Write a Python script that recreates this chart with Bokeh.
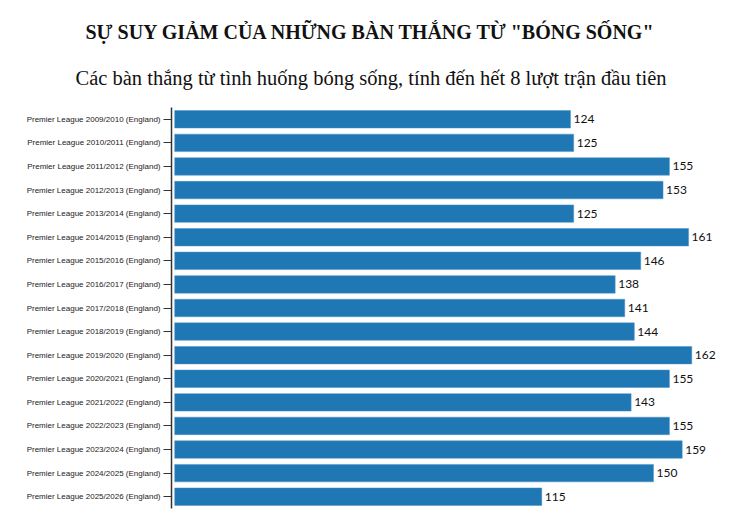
from bokeh.plotting import figure
from bokeh.models import Range1d, Title, ColumnDataSource
from bokeh.core.properties import value
from bokeh.embed import file_html
from bokeh.resources import INLINE

# seasons and goals from open play after 8 rounds
seasons = ["Premier League 2009/2010 (England)", "Premier League 2010/2011 (England)",
           "Premier League 2011/2012 (England)", "Premier League 2012/2013 (England)",
           "Premier League 2013/2014 (England)", "Premier League 2014/2015 (England)",
           "Premier League 2015/2016 (England)", "Premier League 2016/2017 (England)",
           "Premier League 2017/2018 (England)", "Premier League 2018/2019 (England)",
           "Premier League 2019/2020 (England)", "Premier League 2020/2021 (England)",
           "Premier League 2021/2022 (England)", "Premier League 2022/2023 (England)",
           "Premier League 2023/2024 (England)", "Premier League 2024/2025 (England)",
           "Premier League 2025/2026 (England)"]
goals = [124, 125, 155, 153, 125, 161, 146, 138, 141, 144, 162, 155, 143, 155, 159, 150, 115]

src = ColumnDataSource(dict(season=seasons, goals=goals, label=[str(g) for g in goals]))

p = figure(width=736, height=520, y_range=list(reversed(seasons)), x_range=Range1d(-1, 171),
           output_backend="svg", toolbar_location=None, title=None,
           min_border_left=171, min_border_right=16, min_border_bottom=12, min_border_top=107)

# titles are left aligned and pulled back over the axis so they sit centred on the page
p.add_layout(Title(text="Các bàn thắng từ tình huống bóng sống, tính đến hết 8 lượt trận đầu tiên",
                   align="left", offset=-96, text_font="Liberation Serif", text_font_size="20.5px",
                   text_font_style="normal", text_color="#111111", standoff=38), "above")
p.add_layout(Title(text='SỰ SUY GIẢM CỦA NHỮNG BÀN THẮNG TỪ "BÓNG SỐNG"',
                   align="left", offset=-86, text_font="Liberation Serif", text_font_size="20px",
                   text_font_style="bold", text_color="#111111", standoff=6), "above")

p.hbar(y="season", right="goals", left=0, height=0.74, source=src,
       fill_color="#1f77b4", line_color="#4a93c8", line_width=0.5)
p.text(x="goals", y="season", text="label", source=src, x_offset=3,
       text_baseline="middle", text_align="left", text_font=value("Lato"),
       text_font_size="12px", text_color="#111111")

p.xaxis.visible = False
p.grid.visible = False
p.outline_line_color = None

p.yaxis.axis_line_color = "#333333"
p.yaxis.axis_line_width = 1.5
p.yaxis.major_tick_line_color = "#333333"
p.yaxis.major_tick_line_width = 1.2
p.yaxis.major_tick_out = 8
p.yaxis.major_tick_in = 0
p.yaxis.major_label_standoff = 3
p.yaxis.major_label_text_font = "Liberation Sans"
p.yaxis.major_label_text_font_size = "8px"
p.yaxis.major_label_text_color = "#222222"

open("out.html", "w").write(file_html(p, INLINE))
